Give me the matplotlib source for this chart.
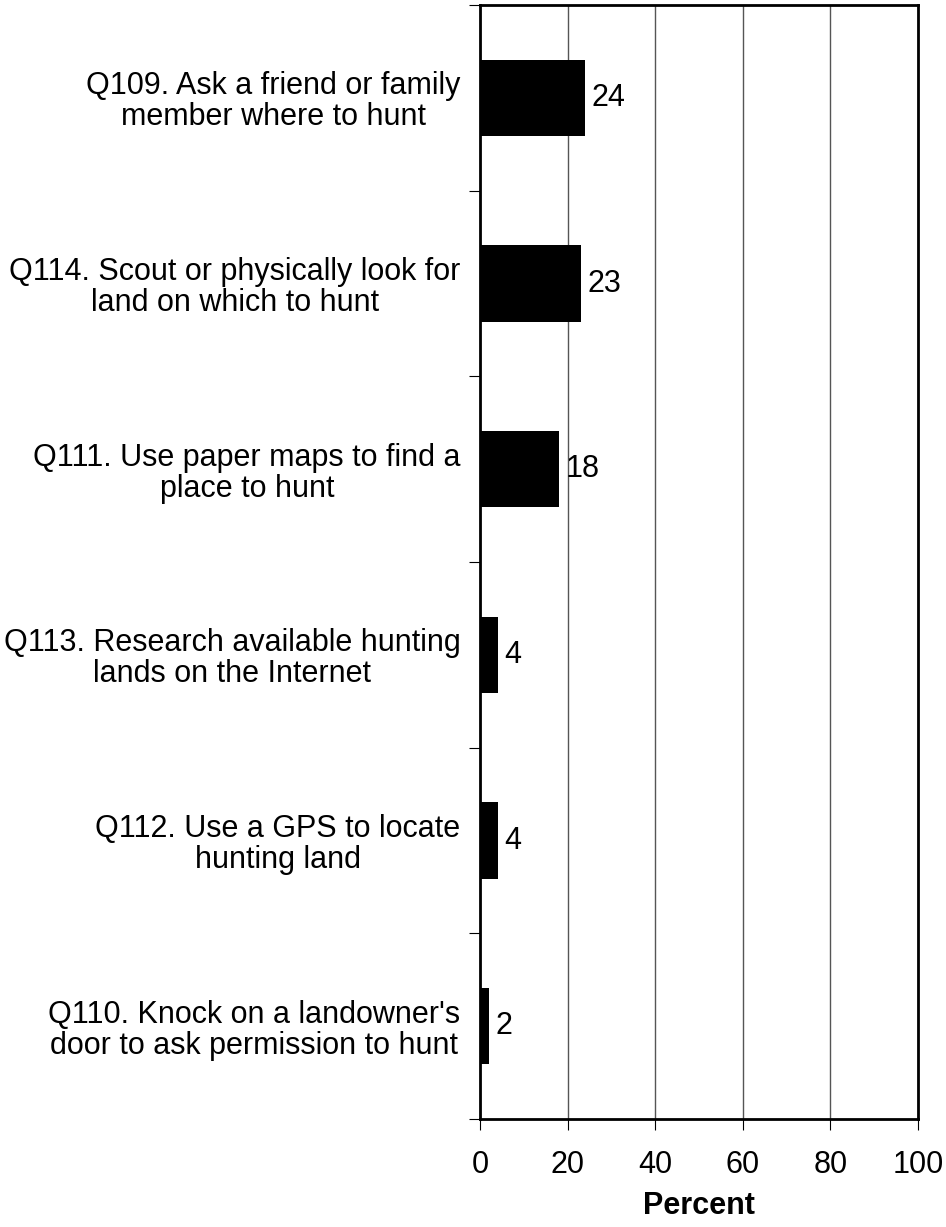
import matplotlib.pyplot as plt
import numpy as np

plt.rcParams['font.family'] = ['Liberation Sans', 'DejaVu Sans']

labels = [
    "Q109. Ask a friend or family\nmember where to hunt",
    "Q114. Scout or physically look for\nland on which to hunt",
    "Q111. Use paper maps to find a\nplace to hunt",
    "Q113. Research available hunting\nlands on the Internet",
    "Q112. Use a GPS to locate\nhunting land",
    "Q110. Knock on a landowner's\ndoor to ask permission to hunt",
]
values = [24, 23, 18, 4, 4, 2]

fig = plt.figure(figsize=(9.46, 12.27), dpi=100)
ax = fig.add_axes([480 / 946, 1 - 1119 / 1227, 438 / 946, 1114 / 1227])

y = np.arange(len(values))
ax.barh(y, values, height=0.41, color='black', zorder=3)

for yi, v in zip(y, values):
    ax.text(v + 1.5, yi, f"{v}", va='center', ha='left', fontsize=22)

ax.set_xlim(0, 100)
ax.set_ylim(len(values) - 0.5, -0.5)
ax.set_xticks(np.arange(0, 101, 20))
ax.tick_params(axis='x', labelsize=22, length=8, direction='out', pad=14, width=0.8)

# category boundaries carry the ticks, labels sit between them
ax.set_yticks(np.arange(-0.5, len(values) + 0.5, 1))
ax.set_yticklabels([])
ax.set_yticks(y, minor=True)
ax.set_yticklabels(labels, minor=True, fontsize=22, linespacing=1.05,
                   ha='right', multialignment='center')
ax.tick_params(axis='y', which='major', length=8, width=0.8, direction='out')
ax.tick_params(axis='y', which='minor', length=0, pad=14)

ax.grid(axis='x', color='#555555', linewidth=1.0, zorder=0)
for s in ax.spines.values():
    s.set_linewidth(2)
    s.set_zorder(4)

ax.set_xlabel("Percent", fontsize=22, fontweight='bold', labelpad=8)

fig.savefig("out.png", dpi=100)
